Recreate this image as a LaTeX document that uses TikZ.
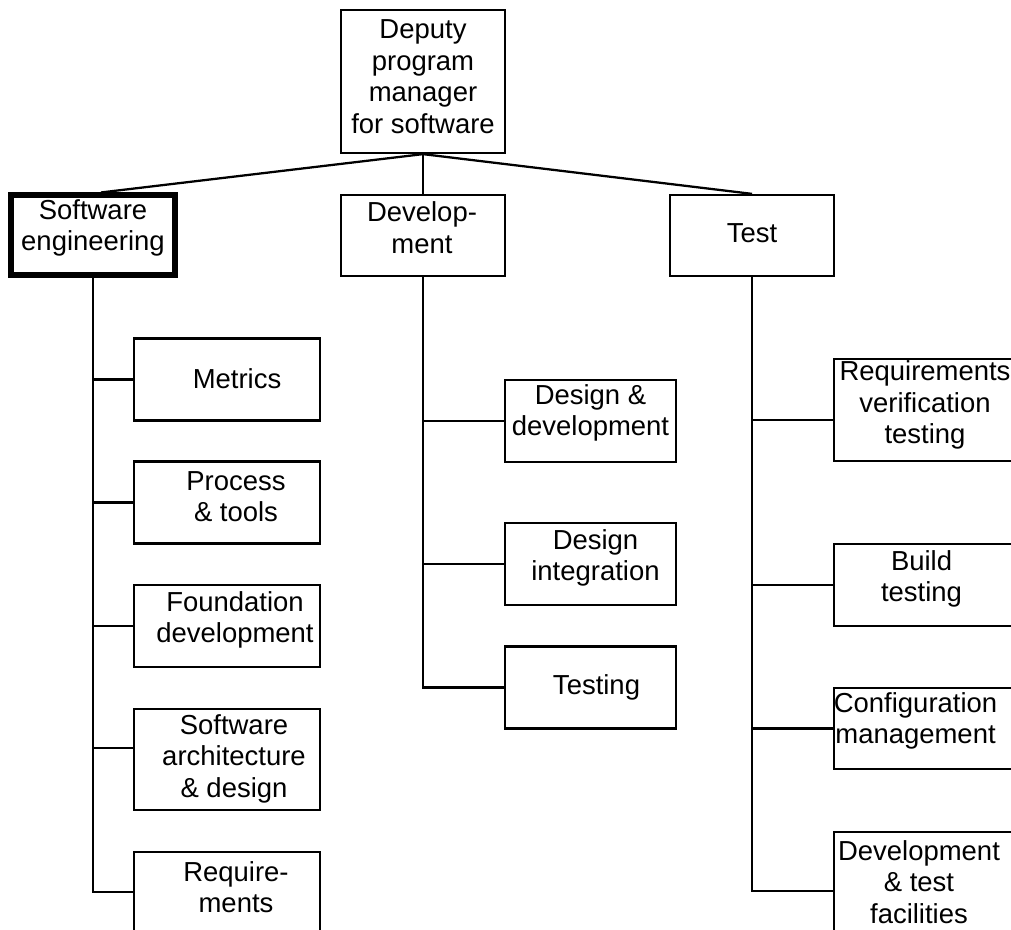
\documentclass[tikz,border=0pt]{standalone}
\usepackage{fontspec}
\setmainfont{Liberation Sans}
\begin{document}
\begin{tikzpicture}[x=0.75pt,y=-0.75pt,
  box/.style={draw, line width=1.7pt, inner sep=0pt, rectangle},
  thickbox/.style={draw, line width=3.8pt, inner sep=0pt, rectangle},
  lbl/.style={font=\fontsize{20.6}{23.6}\selectfont, align=center, inner sep=0pt},
  link/.style={line width=1.7pt},
  lbox/.style={box, minimum width=139.5pt, minimum height=61.5pt},
  mbox/.style={box, minimum width=128.25pt, minimum height=61.5pt},
  rbox/.style={box, minimum width=154.5pt, minimum height=61.5pt},
  hbox/.style={box, minimum width=123pt, minimum height=60.75pt}
]
\useasboundingbox (0,0) rectangle (1011,930);
\clip (0,0) rectangle (1011,930);

% top level
\node[box, minimum width=123pt, minimum height=107.25pt,
  label={[lbl,yshift=3.75pt]center:{Deputy\\program\\manager\\for software}}] (top) at (423,81.5) {};
\node[thickbox, minimum width=123pt, minimum height=60pt,
  label={[lbl,yshift=5.25pt]center:{Software\\engineering}}] (se) at (93,235) {};
\node[hbox, label={[lbl,xshift=-0.75pt,yshift=6pt]center:{Develop-\\ment}}] (dev) at (423,235.5) {};
\node[hbox, label={[lbl,yshift=1.5pt]center:{Test}}] (test) at (752,235.5) {};

% left column
\node[lbox, label={[lbl,xshift=7.5pt,yshift=0.75pt]center:{Metrics}}] (metrics) at (227,379.5) {};
\node[lbox, label={[lbl,xshift=6.75pt,yshift=4.5pt]center:{Process\\\& tools}}] (process) at (227,502.5) {};
\node[lbox, label={[lbl,xshift=6pt,yshift=4.5pt]center:{Foundation\\development}}] (found) at (227,626) {};
\node[lbox, minimum height=75.75pt, label={[lbl,xshift=5.25pt,yshift=0.75pt]center:{Software\\architecture\\\& design}}] (swarch) at (227,759.5) {};
\node[lbox, minimum height=60pt, label={[lbl,xshift=6.75pt,yshift=3.75pt]center:{Require-\\ments}}] (reqs) at (227,892) {};

% middle column
\node[mbox, label={[lbl,yshift=6pt]center:{Design \&\\development}}] (dd) at (590.5,421) {};
\node[mbox, label={[lbl,xshift=3.75pt,yshift=4.5pt]center:{Design\\integration}}] (di) at (590.5,564) {};
\node[mbox, label={[lbl,xshift=4.5pt]center:{Testing}}] (testing) at (590.5,687.5) {};

% right column
\node[rbox, minimum height=76.5pt, label={[lbl,xshift=-9pt,yshift=3.75pt]center:{Requirements\\verification\\testing}}] (rv) at (937,410) {};
\node[rbox, label={[lbl,xshift=-11.6pt,yshift=4.5pt]center:{Build\\testing}}] (build) at (937,585) {};
\node[rbox, minimum height=60.75pt, label={[lbl,xshift=-16.1pt,yshift=5.6pt]center:{Configuration\\management}}] (config) at (937,728.5) {};
\node[rbox, minimum height=88.5pt, label={[lbl,xshift=-13.5pt,yshift=6.75pt]center:{Development\\\& test\\facilities}}] (dtf) at (937,891) {};

% connectors from top
\draw[link] (top.south) -- ([xshift=6pt]se.north);
\draw[link] (top.south) -- (dev.north);
\draw[link] (top.south) -- (test.north);

% left trunk
\draw[link] (se.south) |- (reqs.west);
\draw[link] (metrics.west) -- (metrics.west -| se.south);
\draw[link] (process.west) -- (process.west -| se.south);
\draw[link] (found.west) -- (found.west -| se.south);
\draw[link] ([yshift=8.4pt]swarch.west) -- ([yshift=8.4pt]swarch.west -| se.south);

% middle trunk
\draw[link] (dev.south) |- (testing.west);
\draw[link] (dd.west) -- (dd.west -| dev.south);
\draw[link] (di.west) -- (di.west -| dev.south);

% right trunk
\draw[link] (test.south) |- (dtf.west);
\draw[link] ([yshift=-7.5pt]rv.west) -- ([yshift=-7.5pt]rv.west -| test.south);
\draw[link] (build.west) -- (build.west -| test.south);
\draw[link] (config.west) -- (config.west -| test.south);
\end{tikzpicture}
\end{document}
